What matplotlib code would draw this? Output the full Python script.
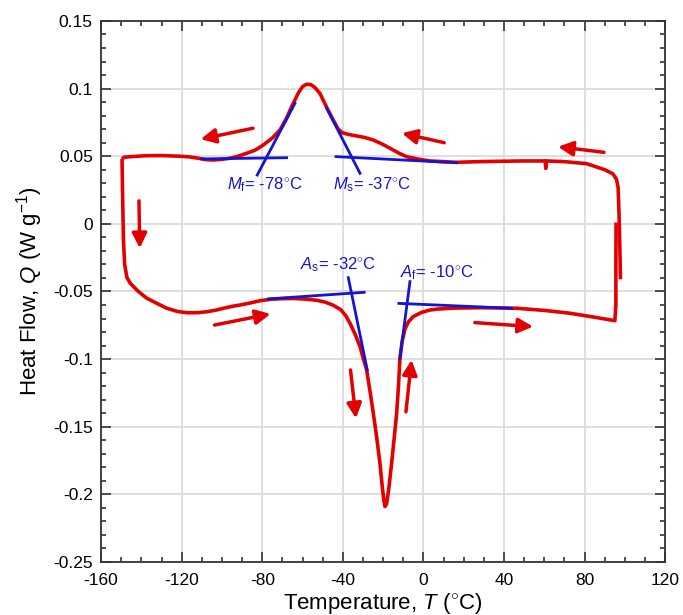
import numpy as np
import matplotlib
matplotlib.use('Agg')
import matplotlib.pyplot as plt
from matplotlib.ticker import MultipleLocator, FuncFormatter

plt.rcParams['font.family'] = ['Liberation Sans', 'DejaVu Sans']
plt.rcParams['mathtext.fontset'] = 'custom'
plt.rcParams['mathtext.rm'] = 'Liberation Sans'
plt.rcParams['mathtext.it'] = 'Liberation Sans:italic'
plt.rcParams['axes.unicode_minus'] = False

# cooling run (right to left along the top)
cool_T = [97.8, 97.5, 97.2, 96.9, 96.6, 95.8, 94, 90, 81, 70, 61, 60.7, 60.4, 50, 40, 28,
          16.4, 3.2, -3, -8.4, -12.5, -16.6, -20.5, -24.9, -29, -33.2, -37.5, -40.5, -42.5,
          -44.8, -48, -51.4, -54, -56, -58, -60, -62, -65, -68, -71.2, -75, -79.5, -83.5,
          -87.7, -92, -96, -100, -104.3, -108, -111.7, -116, -120.8, -130, -137.3, -144,
          -148.5, -149.6]
cool_Q = [-0.041, -0.02, 0.0, 0.015, 0.027, 0.033, 0.037, 0.040, 0.0445, 0.046, 0.0465, 0.041,
          0.0465, 0.0465, 0.0463, 0.046, 0.0455, 0.0465, 0.048, 0.0497, 0.0525, 0.0559, 0.059,
          0.062, 0.0638, 0.065, 0.0662, 0.0675, 0.0705, 0.0768, 0.086, 0.0965, 0.101, 0.103,
          0.1032, 0.1015, 0.097, 0.088, 0.078, 0.0694, 0.0635, 0.0583, 0.0545, 0.0522, 0.050,
          0.0485, 0.0477, 0.0472, 0.0475, 0.0485, 0.0495, 0.050, 0.0505, 0.0504, 0.0498,
          0.0493, 0.048]

# heating run (left to right along the bottom)
heat_T = [-149.6, -149.3, -148.9, -148.3, -147.2, -145.5, -141.5, -137.3, -132, -127.4, -122,
          -117.5, -112, -107.6, -103, -99.3, -95, -91, -86, -81, -75.4, -70, -64, -58, -53,
          -49, -45, -41, -38.5, -36.3, -33.8, -31.5, -29.8, -28.2, -26.5, -24.9, -23.2, -21.6,
          -20.4, -19.6, -19.1, -18.3, -17.3, -15.8, -14.5, -13.3, -12.4, -11.7, -10.6, -9.2,
          -7.5, -5.1, -1, 3.2, 7, 15, 28.8, 46.2, 60, 72.2, 84, 95, 95.5, 95.5, 95.6]
heat_Q = [0.048, 0.02, -0.0126, -0.03, -0.0396, -0.044, -0.050, -0.055, -0.059, -0.0624,
          -0.0648, -0.0657, -0.0657, -0.065, -0.0638, -0.0624, -0.061, -0.060, -0.0585,
          -0.0568, -0.0557, -0.0553, -0.0552, -0.0557, -0.0565, -0.0578, -0.0600, -0.0635,
          -0.0680, -0.074, -0.082, -0.0908, -0.100, -0.108, -0.124, -0.14, -0.158, -0.177,
          -0.195, -0.205, -0.209, -0.207, -0.197, -0.177, -0.158, -0.14, -0.12, -0.1, -0.087,
          -0.078, -0.0725, -0.0686, -0.0655, -0.0637, -0.063, -0.0623, -0.062, -0.0624,
          -0.0640, -0.066, -0.0688, -0.0716, -0.06, -0.03, 0.001]

# tangent construction lines: (T0, Q0, T1, Q1)
tangents = [(-110, 0.048, -67.9, 0.0489), (-63.8, 0.0891, -82.5, 0.0361),
            (-43.4, 0.0497, 16.4, 0.0452), (-48, 0.0854, -31.5, 0.0374),
            (-77, -0.0555, -29.4, -0.0506), (-37.3, -0.0398, -27.9, -0.108),
            (-12.2, -0.0588, 43.7, -0.0624), (-6.7, -0.0427, -11.7, -0.0994)]

# arrows: (tail T, tail Q, head T, head Q)
arrows = [(-84.6, 0.0707, -110.6, 0.0626), (10.3, 0.060, -10.7, 0.067),
          (89.6, 0.0529, 66.8, 0.057), (-141.2, 0.017, -140.8, -0.018),
          (-103.7, -0.0748, -75.9, -0.0666), (25.5, -0.073, 54.4, -0.076),
          (-36.2, -0.108, -33.5, -0.1438), (-8.7, -0.139, -5.9, -0.1006)]

labels = [r'$M_{\rm f}$= -78$^{\circ}$C', r'$M_{\rm s}$= -37$^{\circ}$C',
          r'$A_{\rm s}$= -32$^{\circ}$C', r'$A_{\rm f}$= -10$^{\circ}$C']
label_pos = [(-97.6, 0.0255), (-44.8, 0.0255), (-61.3, -0.0336), (-11.7, -0.0398)]

red = '#e30000'
blue = '#1414d2'

fig = plt.figure(figsize=(6.83, 6.15), dpi=100)
ax = fig.add_axes([0.148, 0.0862, 0.826, 0.8797])

ax.plot(cool_T, cool_Q, color=red, lw=2.6, solid_joinstyle='round', solid_capstyle='butt')
ax.plot(heat_T, heat_Q, color=red, lw=2.6, solid_joinstyle='round', solid_capstyle='butt')

for t0, q0, t1, q1 in tangents:
    ax.plot([t0, t1], [q0, q1], color=blue, lw=2.0)

for t0, q0, t1, q1 in arrows:
    ax.annotate('', xy=(t1, q1), xytext=(t0, q0),
                arrowprops=dict(arrowstyle='-|>', color=red, lw=2.5, mutation_scale=22,
                                shrinkA=0, shrinkB=0))

for s, (t, q) in zip(labels, label_pos):
    ax.text(t, q, s, color=blue, fontsize=12, ha='left', va='baseline')

ax.set_xlim(-160, 120)
ax.set_ylim(-0.25, 0.15)
ax.xaxis.set_major_locator(MultipleLocator(40))
ax.xaxis.set_minor_locator(MultipleLocator(10))
ax.yaxis.set_major_locator(MultipleLocator(0.05))
ax.yaxis.set_minor_locator(MultipleLocator(0.01))
ax.yaxis.set_major_formatter(FuncFormatter(lambda v, p: '%g' % round(v, 3)))
ax.tick_params(which='both', direction='in', top=True, right=True, labelsize=12.5,
               color='#333333', width=1.2)
ax.tick_params(which='major', length=7)
ax.tick_params(which='minor', length=3.5)
ax.tick_params(axis='x', which='major', pad=8)
ax.tick_params(axis='y', which='major', pad=6)
for sp in ax.spines.values():
    sp.set_linewidth(1.3)
    sp.set_color('#333333')
ax.grid(True, which='major', color='#dcdcdc', lw=1.3)
ax.set_axisbelow(True)

ax.set_xlabel(r'Temperature, $T$ ($^{\circ}$C)', fontsize=16, labelpad=2)
ax.set_ylabel(r'Heat Flow, $Q$ (W g$^{-1}$)', fontsize=16, labelpad=6)

fig.savefig('out.png', dpi=100)
